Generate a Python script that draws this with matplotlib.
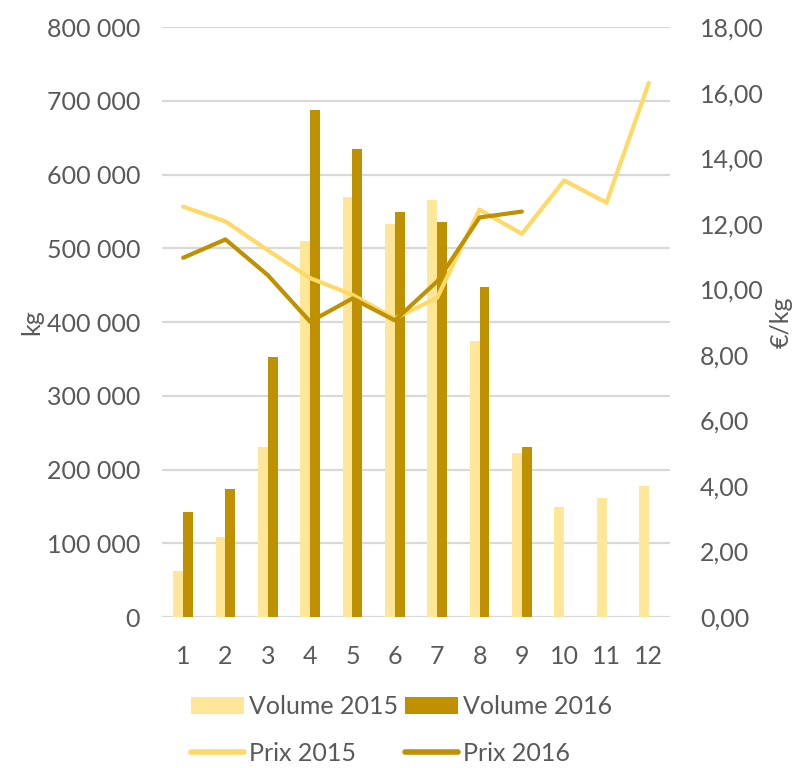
import matplotlib
matplotlib.use("Agg")
import matplotlib.pyplot as plt
import numpy as np
from matplotlib.ticker import FuncFormatter

mois = [str(m) for m in range(1, 13)]
volume_2015 = [62000, 108000, 231000, 510000, 570000, 533000, 565000, 374000, 222000, 149000, 161000, 178000]
volume_2016 = [143000, 173000, 352000, 688000, 635000, 549000, 536000, 447000, 231000]
prix_2015 = [12.52, 12.07, 11.19, 10.34, 9.83, 9.11, 9.74, 12.43, 11.69, 13.32, 12.64, 16.30]
prix_2016 = [10.96, 11.52, 10.43, 9.01, 9.72, 9.05, 10.24, 12.19, 12.37]

gris = "#595959"
taille = 18
plt.rcParams['font.family'] = ['Lato', 'DejaVu Sans']

fig = plt.figure(figsize=(7.92, 7.68), dpi=100)
ax = fig.add_axes([0.2045, 0.1966, 0.6415, 0.7682])
ax2 = ax.twinx()

x = np.arange(len(mois))
w = 0.235
ax.bar(x - w / 2, volume_2015, w, color="#FFE699", label="Volume 2015", zorder=2)
ax.bar(x[:len(volume_2016)] + w / 2, volume_2016, w, color="#BF9000", label="Volume 2016", zorder=2)

ax2.plot(x, prix_2015, color="#FFD966", lw=3.0, label="Prix 2015", solid_capstyle="round")
ax2.plot(x[:len(prix_2016)], prix_2016, color="#BF9000", lw=3.0, label="Prix 2016", solid_capstyle="round")

ax.set_xlim(-0.5, 11.5)
ax.set_ylim(0, 800000)
ax.set_yticks(np.arange(0, 800001, 100000))
ax.yaxis.set_major_formatter(FuncFormatter(lambda v, p: "{:,.0f}".format(v).replace(",", " ")))
ax2.set_ylim(0, 18)
ax2.set_yticks(np.arange(0, 18.1, 2))
ax2.yaxis.set_major_formatter(FuncFormatter(lambda v, p: "{:.2f}".format(v).replace(".", ",")))

ax.set_xticks(x)
ax.set_xticklabels(mois)
ax.grid(axis="y", color="#D9D9D9", lw=1.6, zorder=0)
ax.set_axisbelow(True)

for a in (ax, ax2):
    for s in a.spines.values():
        s.set_visible(False)
    a.tick_params(length=0, colors=gris, labelsize=taille)
ax.tick_params(axis="y", pad=15.8)
ax.tick_params(axis="x", pad=20)
ax2.tick_params(axis="y", pad=21.6)

ax.set_ylabel("kg", color=gris, fontsize=taille, labelpad=2)
ax2.set_ylabel("€/kg", color=gris, fontsize=taille, labelpad=4)

h1, l1 = ax.get_legend_handles_labels()
h2, l2 = ax2.get_legend_handles_labels()
handles = [h1[0], h2[0], h1[1], h2[1]]
labels = [l1[0], l2[0], l1[1], l2[1]]
leg = fig.legend(handles, labels, ncol=2, loc="center", bbox_to_anchor=(0.507, 0.049),
                 frameon=False, fontsize=taille, labelcolor=gris, handlelength=2.1,
                 handletextpad=0.2, columnspacing=0.3, labelspacing=0.95, borderpad=0)
for l in leg.get_lines():
    l.set_linewidth(4)

fig.savefig("out.png", dpi=100)
